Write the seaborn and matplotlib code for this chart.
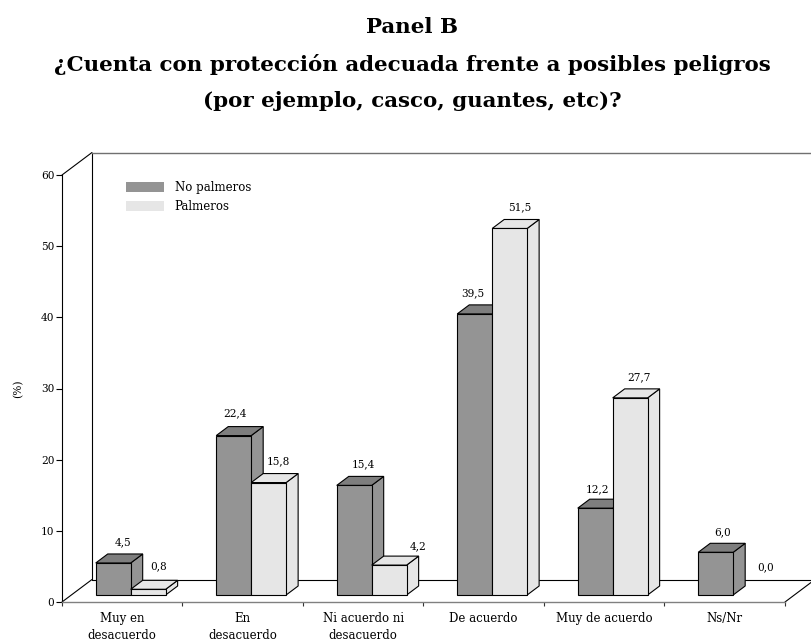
import matplotlib
matplotlib.use("Agg")
import matplotlib.pyplot as plt
from matplotlib.patches import Polygon, Patch
import seaborn as sns
import pandas as pd

categories = ["Muy en\ndesacuerdo", "En\ndesacuerdo", "Ni acuerdo ni\ndesacuerdo",
              "De acuerdo", "Muy de acuerdo", "Ns/Nr"]
no_palmeros = [4.5, 22.4, 15.4, 39.5, 12.2, 6.0]
palmeros = [0.8, 15.8, 4.2, 51.5, 27.7, 0.0]
series_names = ["No palmeros", "Palmeros"]
title_lines = ["Panel B",
               "¿Cuenta con protección adecuada frente a posibles peligros",
               "(por ejemplo, casco, guantes, etc)?"]

W, H = 812, 644
sns.set_theme(style="white")
plt.rcParams["font.family"] = ["DejaVu Serif"]
plt.rcParams["text.color"] = "black"
FS_NUM = 7.6
FS_TXT = 8.5
LW = 0.8

df = pd.DataFrame({
    "cat": categories * 2,
    "serie": [series_names[0]] * 6 + [series_names[1]] * 6,
    "val": no_palmeros + palmeros,
})
DARK, LIGHT = "#949494", "#E6E6E6"
TOP_DARK = "#7E7E7E"

fig = plt.figure(figsize=(W / 100, H / 100), dpi=100)
ax = fig.add_axes([62 / W, 1 - 602 / H, 723 / W, 427 / H])
sns.barplot(data=df, x="cat", y="val", hue="serie", order=categories,
            hue_order=series_names, palette=[DARK, LIGHT], width=0.58, gap=0,
            dodge=True, legend=False, edgecolor="black", linewidth=LW, ax=ax)
ax.set_xlim(-0.57, 5.43)
ax.set_ylim(0, 60)

px_x = 723 / 6
px_y = 427 / 60
base = 7 / px_y
dx, dy = 12 / px_x, 9 / px_y

label_offsets = [[(10, 12), (10, 14)], [(1, 13), (10, 12)], [(9, 12), (29, 10)],
                 [(-2, 12), (10, 12)], [(2, 10), (9, 12)], [(7, 11), (15, 19)]]

for s, cont in enumerate(ax.containers):
    face = [DARK, LIGHT][s]
    top = [TOP_DARK, LIGHT][s]
    z = 3 + s
    for i, patch in enumerate(cont.patches):
        v = patch.get_height()
        x0 = patch.get_x()
        x1 = x0 + patch.get_width()
        patch.set_y(base)
        patch.set_zorder(z + 0.2)
        patch.set_clip_on(False)
        y1 = base + v
        if v > 0:
            ax.add_patch(Polygon([(x1, base), (x1 + dx, base + dy), (x1 + dx, y1 + dy), (x1, y1)],
                                 closed=True, fc=face, ec="black", lw=LW, zorder=z, clip_on=False))
            ax.add_patch(Polygon([(x0, y1), (x0 + dx, y1 + dy), (x1 + dx, y1 + dy), (x1, y1)],
                                 closed=True, fc=top, ec="black", lw=LW, zorder=z + 0.1, clip_on=False))
        else:
            patch.set_visible(False)
        ox, oy = label_offsets[i][s]
        ax.annotate(f"{v:.1f}".replace(".", ","), xy=((x0 + x1) / 2, y1), xytext=(ox * .72, (oy + 9) * .72),
                    textcoords="offset points", ha="center", va="center", fontsize=FS_NUM,
                    color="black", zorder=6, annotation_clip=False)

# Depth frame
back_x, back_y = 30 / px_x, 22.5 / px_y
xl, xr = ax.get_xlim()
line = dict(color="black", lw=LW, clip_on=False, zorder=1)
ax.plot([xl, xl + back_x], [60, 60 + back_y], **line)
ax.plot([xl, xl + back_x], [0, back_y], **line)
ax.plot([xr, xr + back_x], [0, back_y], **line)
ax.plot([xl + back_x, xl + back_x], [back_y, 60 + back_y], **line)
ax.plot([xl + back_x, xr + back_x], [back_y, back_y], **line)
ax.plot([xl + back_x, xr + back_x], [60 + back_y, 60 + back_y], color="#707070", lw=1.0, clip_on=False, zorder=1)

# Axes
sns.despine(ax=ax, top=True, right=True)
ax.spines["left"].set_color("black")
ax.spines["left"].set_linewidth(LW)
ax.spines["bottom"].set_color("#808080")
ax.spines["bottom"].set_linewidth(1.0)
ax.patch.set_alpha(0)
ax.set_yticks(range(0, 61, 10))
ax.tick_params(axis="y", length=4, width=LW, color="black", pad=1.5, labelsize=FS_NUM, labelcolor="black", left=True)
ax.set_xticks([xl + k for k in range(7)], labels=[""] * 7)
ax.tick_params(axis="x", which="major", length=3, width=LW, color="#333333", bottom=True)
ax.set_xticks([k - 0.07 for k in range(6)], labels=categories, minor=True)
ax.tick_params(axis="x", which="minor", length=0, pad=7.5, labelsize=FS_TXT, labelcolor="black")
for t in ax.get_xticklabels(minor=True):
    t.set_linespacing(1.35)
ax.set_xlabel("")
ax.set_ylabel("(%)", fontsize=FS_NUM, color="black")
ax.yaxis.set_label_coords((23 - 62) / 723, (602 - 389) / 427)

handles = [Patch(fc=DARK, ec="none"), Patch(fc=LIGHT, ec="none")]
ax.legend(handles, series_names, loc="upper left", bbox_to_anchor=(120 / W, 1 - 175 / H),
          bbox_transform=fig.transFigure, frameon=False, fontsize=FS_TXT,
          handlelength=3.2, handleheight=0.93, handletextpad=0.92,
          labelspacing=0.5, borderpad=0.5, borderaxespad=0)

for line_text, y in zip(title_lines, [33, 71, 107]):
    fig.text(412 / W, 1 - y / H, line_text, ha="center", va="baseline",
             fontsize=15.4, fontweight="bold", color="black")

fig.savefig("out.png", dpi=100)
